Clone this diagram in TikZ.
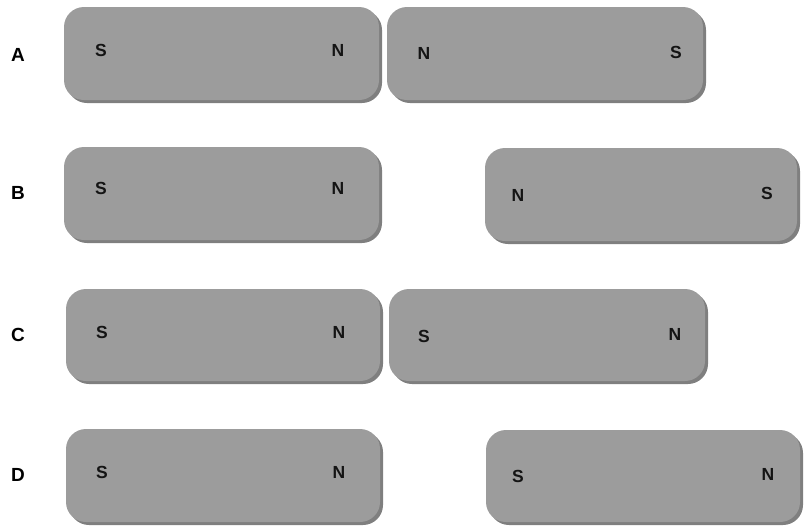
\documentclass[tikz,border=0pt]{standalone}
\usepackage{fontspec}
\setmainfont{Liberation Sans}
\usetikzlibrary{shadows}
\begin{document}
\begin{tikzpicture}[x=1pt,y=-1pt,
  magnet/.style={fill={rgb,255:red,156;green,156;blue,156}, draw=none, rounded corners=20pt,
    drop shadow={shadow xshift=3pt, shadow yshift=-3pt, fill=black, opacity=0.5}},
  pole/.style={font=\bfseries\fontsize{17.5}{17.5}\selectfont, text={rgb,255:red,20;green,20;blue,20}, inner sep=0pt},
  rowlab/.style={font=\bfseries\fontsize{19}{19}\selectfont, inner sep=0pt}]
\useasboundingbox (0,0) rectangle (804,531);
% Row A
\node[rowlab] (la) at (18,55) {A};
\path[magnet] (64,7) rectangle (379,100);
\path[magnet] (387,7) rectangle (703,100);
\node[pole] (a1s) at (101,50) {S};
\node[pole] (a1n) at (338,50) {N};
\node[pole] (a2n) at (424,53) {N};
\node[pole] (a2s) at (676,52) {S};
% Row B
\node[rowlab] (lb) at (18,193) {B};
\path[magnet] (64,147) rectangle (379,240);
\path[magnet] (485,148) rectangle (797,241);
\node[pole] (b1s) at (101,188) {S};
\node[pole] (b1n) at (338,188) {N};
\node[pole] (b2n) at (518,195) {N};
\node[pole] (b2s) at (767,193) {S};
% Row C
\node[rowlab] (lc) at (18,335) {C};
\path[magnet] (66,289) rectangle (380,381);
\path[magnet] (389,289) rectangle (705,381);
\node[pole] (c1s) at (102,332) {S};
\node[pole] (c1n) at (339,332) {N};
\node[pole] (c2s) at (424,336) {S};
\node[pole] (c2n) at (675,334) {N};
% Row D
\node[rowlab] (ld) at (18,475) {D};
\path[magnet] (66,429) rectangle (380,522);
\path[magnet] (486,430) rectangle (800,522);
\node[pole] (d1s) at (102,472) {S};
\node[pole] (d1n) at (339,472) {N};
\node[pole] (d2s) at (518,476) {S};
\node[pole] (d2n) at (768,474) {N};
\end{tikzpicture}
\end{document}
